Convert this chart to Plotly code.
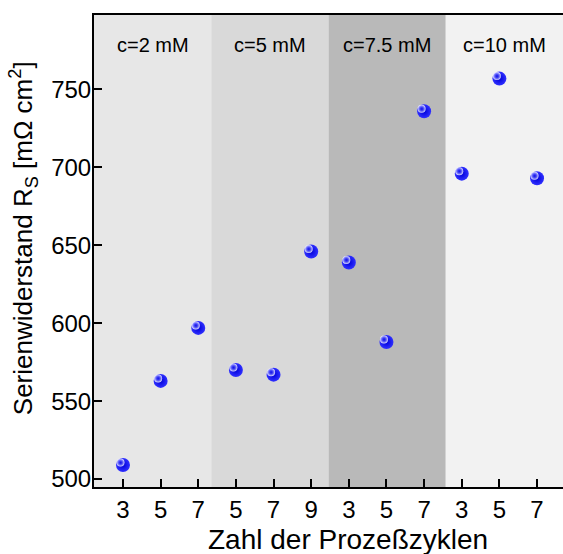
import plotly.graph_objects as go

# ---- data ----
cycle_labels = ["3", "5", "7", "5", "7", "9", "3", "5", "7", "3", "5", "7"]
resistance = [509, 563, 597, 570, 567, 646, 639, 588, 736, 696, 757, 693]
band_labels = ["c=2 mM", "c=5 mM", "c=7.5 mM", "c=10 mM"]
band_colors = ["#e7e7e7", "#d9d9d9", "#b9b9b9", "#f2f2f2"]
y_ticks = [500, 550, 600, 650, 700, 750]

xpos = list(range(len(cycle_labels)))
FONT = "Liberation Sans, Arial, sans-serif"

x_range = [-0.77, 11.69]
y_range = [494.9, 797.8]
# highlight offset (pixels) implemented with overlaid axes
px_per_x = 469 / (x_range[1] - x_range[0])
px_per_y = 472 / (y_range[1] - y_range[0])
dx, dy = 2.5, 2.5

fig = go.Figure()

# background bands
shapes = []
for i, col in enumerate(band_colors):
    shapes.append(dict(type="rect", xref="x domain", yref="y domain",
                       x0=i / 4, x1=(i + 1) / 4, y0=0, y1=1,
                       fillcolor=col, line=dict(width=0), layer="below"))

fig.add_trace(go.Scatter(
    x=xpos, y=resistance, mode="markers",
    marker=dict(size=14, color="#3030ff",
                gradient=dict(type="radial", color="#0000d8"),
                line=dict(width=0)),
    showlegend=False, hoverinfo="skip"))

fig.add_trace(go.Scatter(
    x=xpos, y=resistance, mode="markers", xaxis="x2", yaxis="y2",
    marker=dict(size=8, color="rgba(235,235,255,0.95)",
                gradient=dict(type="radial", color="rgba(70,70,255,0.0)"),
                line=dict(width=0)),
    showlegend=False, hoverinfo="skip"))

annotations = []
for i, lab in enumerate(band_labels):
    annotations.append(dict(text=lab, xref="x domain", yref="paper",
                            x=(i + 0.5) / 4, y=0.936, showarrow=False,
                            xanchor="center", yanchor="middle",
                            font=dict(family=FONT, size=20, color="black")))

annotations.append(dict(text="Zahl der Prozeßzyklen", xref="paper", yref="paper",
                        x=0.5416, y=-0.112, showarrow=False,
                        xanchor="center", yanchor="middle",
                        font=dict(family=FONT, size=28, color="black")))
annotations.append(dict(text="Serienwiderstand R<sub>S</sub> [mΩ cm<sup>2</sup>]",
                        xref="paper", yref="paper", textangle=-90,
                        x=-0.151, y=0.5275, showarrow=False,
                        xanchor="center", yanchor="middle",
                        font=dict(family=FONT, size=26, color="black")))

fig.update_layout(
    width=563, height=554,
    margin=dict(l=94, r=0, t=15, b=67),
    paper_bgcolor="white", plot_bgcolor="white",
    shapes=shapes, annotations=annotations,
    font=dict(family=FONT, color="black"),
    xaxis=dict(range=x_range, tickmode="array", tickvals=xpos, ticktext=cycle_labels,
               showgrid=False, zeroline=False, showline=True, linecolor="black",
               linewidth=2, mirror=True, ticks="inside", ticklen=8, tickwidth=2,
               tickcolor="black", tickfont=dict(family=FONT, size=24, color="black")),
    yaxis=dict(range=y_range, tickmode="array", tickvals=y_ticks,
               showgrid=False, zeroline=False, showline=True, linecolor="black",
               linewidth=2, ticks="inside", ticklen=8, tickwidth=2,
               ticklabelstandoff=-4,
               tickcolor="black", tickfont=dict(family=FONT, size=24, color="black")),
    xaxis2=dict(range=[x_range[0] + dx / px_per_x, x_range[1] + dx / px_per_x],
                overlaying="x", visible=False),
    yaxis2=dict(range=[y_range[0] - dy / px_per_y, y_range[1] - dy / px_per_y],
                overlaying="y", visible=False),
)

fig.write_html("out.html")
